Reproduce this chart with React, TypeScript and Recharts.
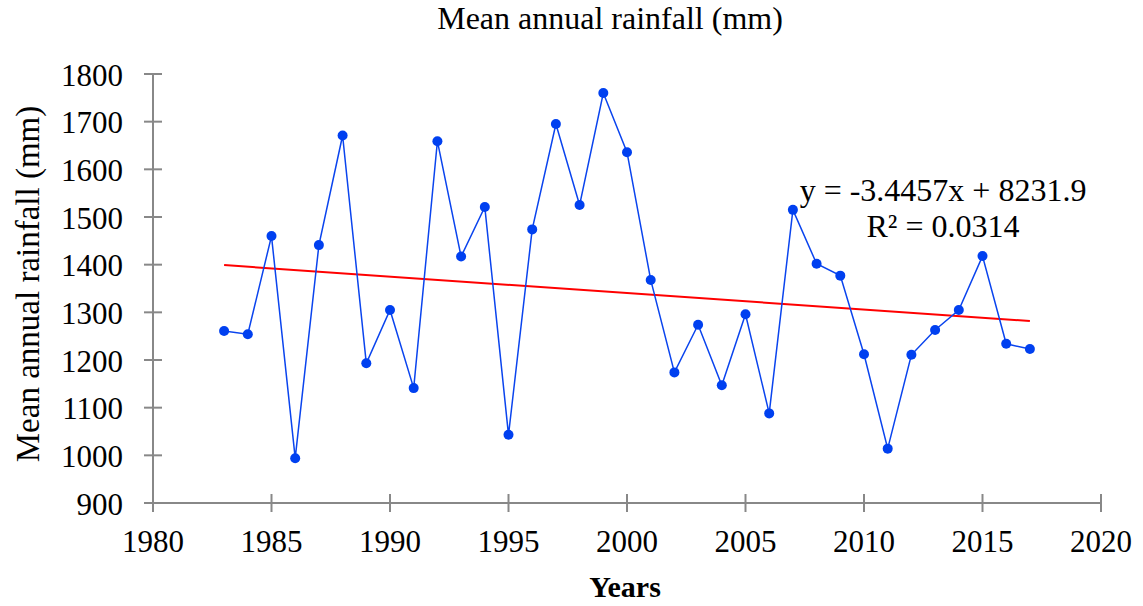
import { LineChart, Line, XAxis, YAxis, ReferenceLine, Customized } from "recharts"

const years = [1983, 1984, 1985, 1986, 1987, 1988, 1989, 1990, 1991, 1992, 1993, 1994, 1995, 1996, 1997, 1998, 1999, 2000, 2001, 2002, 2003, 2004, 2005, 2006, 2007, 2008, 2009, 2010, 2011, 2012, 2013, 2014, 2015, 2016, 2017]
const rainfall = [1261, 1254, 1460, 994, 1441, 1671, 1193, 1305, 1141, 1659, 1417, 1521, 1043, 1474, 1695, 1525, 1760, 1636, 1368, 1174, 1274, 1147, 1296, 1088, 1515, 1402, 1377, 1212, 1014, 1211, 1263, 1305, 1418, 1234, 1223]
const xTicks = [1980, 1985, 1990, 1995, 2000, 2005, 2010, 2015, 2020]
const yTicks = [900, 1000, 1100, 1200, 1300, 1400, 1500, 1600, 1700, 1800]
// linear trend end points (y = -3.4457x + 8231.9)
const trendYears = [1983, 2017]
const trendValues = [1399.1, 1281.9]

const data = years.map((y, i) => ({ year: y, rain: rainfall[i] }))

const font = "'Liberation Serif', 'Times New Roman', serif"
const axisColor = "#888888"

function YTick(props: any) {
  const { x, y, payload } = props
  return (
    <g>
      <line x1={x + 20} x2={x + 38} y1={y} y2={y} stroke={axisColor} strokeWidth={2} />
      <text x={x - 1} y={y + 1} textAnchor="end" dominantBaseline="central" fontSize={31} fontFamily={font} fill="#000">
        {payload.value}
      </text>
    </g>
  )
}

function XTick(props: any) {
  const { x, y, payload } = props
  return (
    <g>
      <line x1={x} x2={x} y1={y - 28} y2={y - 10} stroke={axisColor} strokeWidth={2} />
      <text x={x} y={y + 30} textAnchor="middle" fontSize={31} fontFamily={font} fill="#000">
        {payload.value}
      </text>
    </g>
  )
}

function Texts() {
  return (
    <g fontFamily={font} fill="#000">
      <text x={610} y={29} textAnchor="middle" fontSize={32}>Mean annual rainfall (mm)</text>
      <text x={625} y={597} textAnchor="middle" fontSize={30} fontWeight="bold">Years</text>
      <text transform="translate(39,284) rotate(-90)" textAnchor="middle" fontSize={33}>Mean annual rainfall (mm)</text>
      <text x={943} y={201} textAnchor="middle" fontSize={32}>y = -3.4457x + 8231.9</text>
      <text x={943} y={237} textAnchor="middle" fontSize={32}>R² = 0.0314</text>
    </g>
  )
}

export default function App() {
  return (
    <div style={{ position: "absolute", left: 0, top: 0 }}>
      <LineChart width={1143} height={606} data={data} margin={{ top: 74, right: 42, bottom: 43, left: 0 }}>
        <XAxis
          dataKey="year"
          type="number"
          domain={[1980, 2020]}
          ticks={xTicks}
          height={60}
          stroke={axisColor}
          strokeWidth={2}
          tickLine={false}
          tickSize={9}
          tickMargin={10}
          tick={<XTick />}
          interval={0}
        />
        <YAxis
          type="number"
          domain={[900, 1800]}
          ticks={yTicks}
          width={153}
          stroke={axisColor}
          strokeWidth={2}
          tickLine={false}
          tickSize={9}
          tickMargin={20}
          tick={<YTick />}
          interval={0}
        />
        <ReferenceLine
          segment={[
            { x: trendYears[0], y: trendValues[0] },
            { x: trendYears[1], y: trendValues[1] },
          ]}
          stroke="#ff0000"
          strokeWidth={2}
        />
        <Line
          dataKey="rain"
          stroke="#0a44ee"
          strokeWidth={1.5}
          dot={{ r: 5, fill: "#0040f0", stroke: "none" }}
          isAnimationActive={false}
        />
        <Customized component={Texts} />
      </LineChart>
    </div>
  )
}
